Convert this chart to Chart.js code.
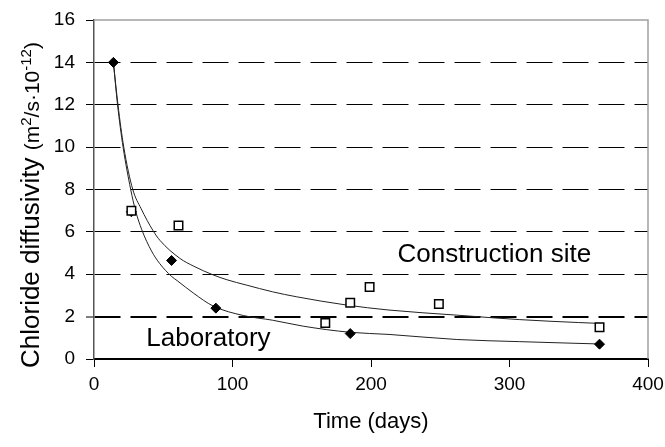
<!DOCTYPE html>
<html>
<head>
<meta charset="utf-8">
<script src="https://cdn.jsdelivr.net/npm/chart.js@4/dist/chart.umd.min.js"></script>
<style>
	html, body { margin: 0; padding: 0; background: #fff; }
	#wrap { width: 665px; height: 447px; }
</style>
</head>
<body>
<div id="wrap"><canvas id="chart"></canvas></div>
<script>
// measured points
const lab_days = [14, 27, 56, 88, 185, 365];
const lab_values = [14, 6.95, 4.65, 2.4, 1.2, 0.7];
const site_days = [27, 61, 167, 185, 199, 249, 365];
const site_values = [7.0, 6.3, 1.7, 2.65, 3.4, 2.6, 1.5];

// trend curves
const lab_curve_days = [14, 17, 21, 26.5, 30, 34.5, 41.5, 47.5, 56, 60, 72, 86, 108, 129, 151, 185, 213, 262, 307, 348, 365];
const lab_curve_values = [14, 12, 10, 8, 7, 6.1, 5.1, 4.5, 3.9, 3.7, 3.1, 2.5, 2.05, 1.83, 1.55, 1.26, 1.16, 0.92, 0.82, 0.74, 0.71];
const site_curve_days = [14, 17.3, 21.5, 28, 34, 42.7, 47.6, 62, 72, 86, 96, 110, 129, 146, 182, 213, 262, 307, 350, 365];
const site_curve_values = [14, 12, 10, 8, 7.1, 6.05, 5.6, 4.75, 4.38, 3.97, 3.74, 3.49, 3.17, 2.94, 2.55, 2.31, 2.07, 1.86, 1.72, 1.68];

const x_ticks = [0, 100, 200, 300, 400];
const y_ticks = [0, 2, 4, 6, 8, 10, 12, 14, 16];

const to_xy = (xs, ys) => xs.map((x, i) => ({ x: x, y: ys[i] }));

const FONT = "'Liberation Sans', Arial, sans-serif";

// gray frame on top and right of the plot
const frame_plugin = {
	id: 'frame',
	afterDraw(chart) {
		const { ctx, chartArea: a } = chart;
		ctx.save();
		ctx.strokeStyle = '#a0a0a0';
		ctx.lineWidth = 1.5;
		ctx.beginPath();
		ctx.moveTo(a.left, a.top);
		ctx.lineTo(a.right, a.top);
		ctx.lineTo(a.right, a.bottom);
		ctx.stroke();
		ctx.restore();
	}
};

// series names inside the plot
const names_plugin = {
	id: 'names',
	afterDatasetsDraw(chart) {
		const { ctx, scales } = chart;
		ctx.save();
		ctx.fillStyle = '#000';
		ctx.font = '26px ' + FONT;
		ctx.textAlign = 'center';
		ctx.textBaseline = 'alphabetic';
		ctx.fillText('Construction site', scales.x.getPixelForValue(289), scales.y.getPixelForValue(4.59));
		ctx.fillText('Laboratory', scales.x.getPixelForValue(82.6), scales.y.getPixelForValue(0.61));
		ctx.restore();
	}
};

// y title with superscripts
const ytitle_plugin = {
	id: 'ytitle',
	afterDraw(chart) {
		const { ctx } = chart;
		const parts = [
			['Chloride diffusivity ', 26, 0],
			['(m', 21, 0],
			['2', 15, 8],
			['/s\u00b710', 21, 0],
			['-12', 15, 8],
			[')', 21, 0]
		];
		ctx.save();
		ctx.translate(39, 368);
		ctx.rotate(-Math.PI / 2);
		ctx.fillStyle = '#000';
		ctx.textBaseline = 'alphabetic';
		ctx.textAlign = 'left';
		let pos = 0;
		for (const [txt, size, rise] of parts) {
			ctx.font = size + 'px ' + FONT;
			ctx.fillText(txt, pos, -rise);
			pos += ctx.measureText(txt).width;
		}
		ctx.restore();
	}
};

new Chart(document.getElementById('chart'), {
	type: 'scatter',
	data: {
		datasets: [
			{
				label: 'Construction site',
				data: to_xy(site_days, site_values),
				pointStyle: 'rect',
				pointRadius: 6,
				backgroundColor: '#fff',
				borderColor: '#000',
				borderWidth: 1.5
			},
			{
				label: 'Laboratory',
				data: to_xy(lab_days, lab_values),
				pointStyle: 'rectRot',
				pointRadius: 5,
				backgroundColor: '#000',
				borderColor: '#000',
				borderWidth: 1
			},
			{
				label: 'Laboratory trend',
				data: to_xy(lab_curve_days, lab_curve_values),
				showLine: true,
				pointRadius: 0,
				borderColor: '#222',
				borderWidth: 1,
				cubicInterpolationMode: 'monotone'
			},
			{
				label: 'Construction site trend',
				data: to_xy(site_curve_days, site_curve_values),
				showLine: true,
				pointRadius: 0,
				borderColor: '#222',
				borderWidth: 1,
				cubicInterpolationMode: 'monotone'
			}
		]
	},
	options: {
		responsive: true,
		maintainAspectRatio: false,
		animation: false,
		layout: { padding: { left: 0, right: 17, top: 20, bottom: 0 } },
		plugins: {
			legend: { display: false },
			tooltip: { enabled: false }
		},
		scales: {
			x: {
				type: 'linear',
				min: 0,
				max: 400,
				afterBuildTicks: (scale) => { scale.ticks = x_ticks.map(v => ({ value: v })); },
				afterFit: (scale) => {
					scale.height = 88;
					scale.paddingLeft = 0;
					scale.paddingRight = 0;
				},
				ticks: { color: '#000', font: { size: 19, family: FONT }, padding: 6, maxRotation: 0 },
				grid: { drawOnChartArea: false, tickLength: 8, tickColor: '#000', tickWidth: 1 },
				border: { color: '#000', width: 2 },
				title: {
					display: true,
					text: 'Time (days)',
					color: '#000',
					font: { size: 22, family: FONT },
					padding: { top: 0, bottom: 12 }
				}
			},
			y: {
				type: 'linear',
				min: 0,
				max: 16,
				afterBuildTicks: (scale) => { scale.ticks = y_ticks.map(v => ({ value: v })); },
				afterFit: (scale) => {
					scale.width = 94;
					scale.paddingTop = 0;
					scale.paddingBottom = 0;
				},
				ticks: { color: '#000', font: { size: 19, family: FONT }, padding: 11 },
				grid: {
					color: (c) => (c.tick && (c.tick.value === 0 || c.tick.value === 16)) ? 'rgba(0,0,0,0)' : '#000',
					lineWidth: (c) => (c.tick && c.tick.value === 2) ? 2 : 1,
					tickLength: 8,
					tickColor: '#000',
					tickWidth: 1
				},
				border: { color: '#555', width: 1.5, dash: [26, 10] }
			}
		}
	},
	plugins: [frame_plugin, names_plugin, ytitle_plugin]
});
</script>
</body>
</html>
